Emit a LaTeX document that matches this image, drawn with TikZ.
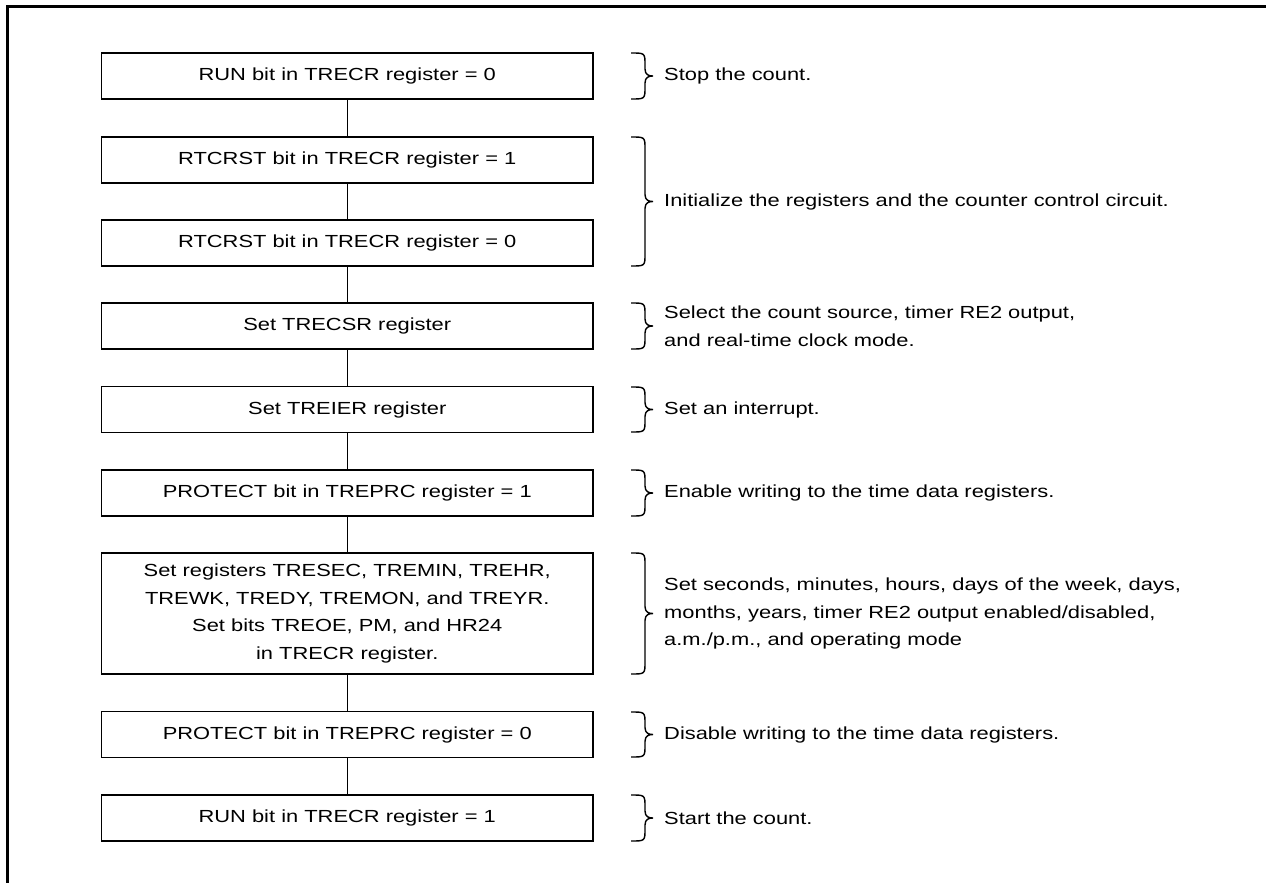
\documentclass[tikz,border=0pt]{standalone}
\usepackage{fontspec}
\setmainfont{Liberation Sans}[FakeStretch=1.25]
\newcommand\boxfont{\fontsize{17.5}{27.7}\selectfont}
\newcommand\bracemark[2]{%
  \draw[bracket] (631,#1) .. controls (645,#1) .. (645,#1+12)
    -- (645,{(#1+#2)/2-7})
    .. controls (645,{(#1+#2)/2-1}) and (649,{(#1+#2)/2}) .. (653,{(#1+#2)/2})
    .. controls (649,{(#1+#2)/2}) and (645,{(#1+#2)/2+1}) .. (645,{(#1+#2)/2+7})
    -- (645,#2-12) .. controls (645,#2) .. (631,#2);}
\begin{document}
\begin{tikzpicture}[x=1pt,y=-1pt,
  stepbox/.style={draw, line width=1.3pt, minimum width=491.5pt, minimum height=46pt,
    inner sep=0pt, align=center, font=\boxfont},
  note/.style={anchor=west, align=left, inner sep=0pt, font=\boxfont},
  link/.style={line width=1.3pt},
  bracket/.style={line width=1.4pt},
  frame/.style={line width=3.3pt}]
\useasboundingbox (0,0) rectangle (1266,883);
\draw[frame] (7.3,883) -- (7.3,6.7) -- (1266,6.7);

\node[stepbox] (s1) at (347.25,76) {RUN bit in TRECR register = 0};
\node[stepbox] (s2) at (347.25,160) {RTCRST bit in TRECR register = 1};
\node[stepbox] (s3) at (347.25,243) {RTCRST bit in TRECR register = 0};
\node[stepbox] (s4) at (347.25,326) {Set TRECSR register};
\node[stepbox] (s5) at (347.25,409.5) {Set TREIER register};
\node[stepbox] (s6) at (347.25,493) {PROTECT bit in TREPRC register = 1};
\node[stepbox, minimum height=121pt] (s7) at (347.25,613.5)
  {Set registers TRESEC, TREMIN, TREHR,\\TREWK, TREDY, TREMON, and TREYR.\\Set bits TREOE, PM, and HR24\\in TRECR register.};
\node[stepbox] (s8) at (347.25,734.5) {PROTECT bit in TREPRC register = 0};
\node[stepbox] (s9) at (347.25,818) {RUN bit in TRECR register = 1};

\draw[link] (s1) -- (s2);
\draw[link] (s2) -- (s3);
\draw[link] (s3) -- (s4);
\draw[link] (s4) -- (s5);
\draw[link] (s5) -- (s6);
\draw[link] (s6) -- (s7);
\draw[link] (s7) -- (s8);
\draw[link] (s8) -- (s9);

\bracemark{53}{99}
\bracemark{137}{266}
\bracemark{303}{349}
\bracemark{387}{432}
\bracemark{470}{516}
\bracemark{553}{674}
\bracemark{712}{757}
\bracemark{795}{841}

\node[note] (n1) at (664,76) {Stop the count.};
\node[note] (n2) at (664,201.5) {Initialize the registers and the counter control circuit.};
\node[note] (n3) at (664,326) {Select the count source, timer RE2 output,\\and real-time clock mode.};
\node[note] (n4) at (664,409.5) {Set an interrupt.};
\node[note] (n5) at (664,493) {Enable writing to the time data registers.};
\node[note] (n6) at (664,613.5) {Set seconds, minutes, hours, days of the week, days,\\months, years, timer RE2 output enabled/disabled,\\a.m./p.m., and operating mode};
\node[note] (n7) at (664,734.5) {Disable writing to the time data registers.};
\node[note] (n8) at (664,818) {Start the count.};
\end{tikzpicture}
\end{document}
